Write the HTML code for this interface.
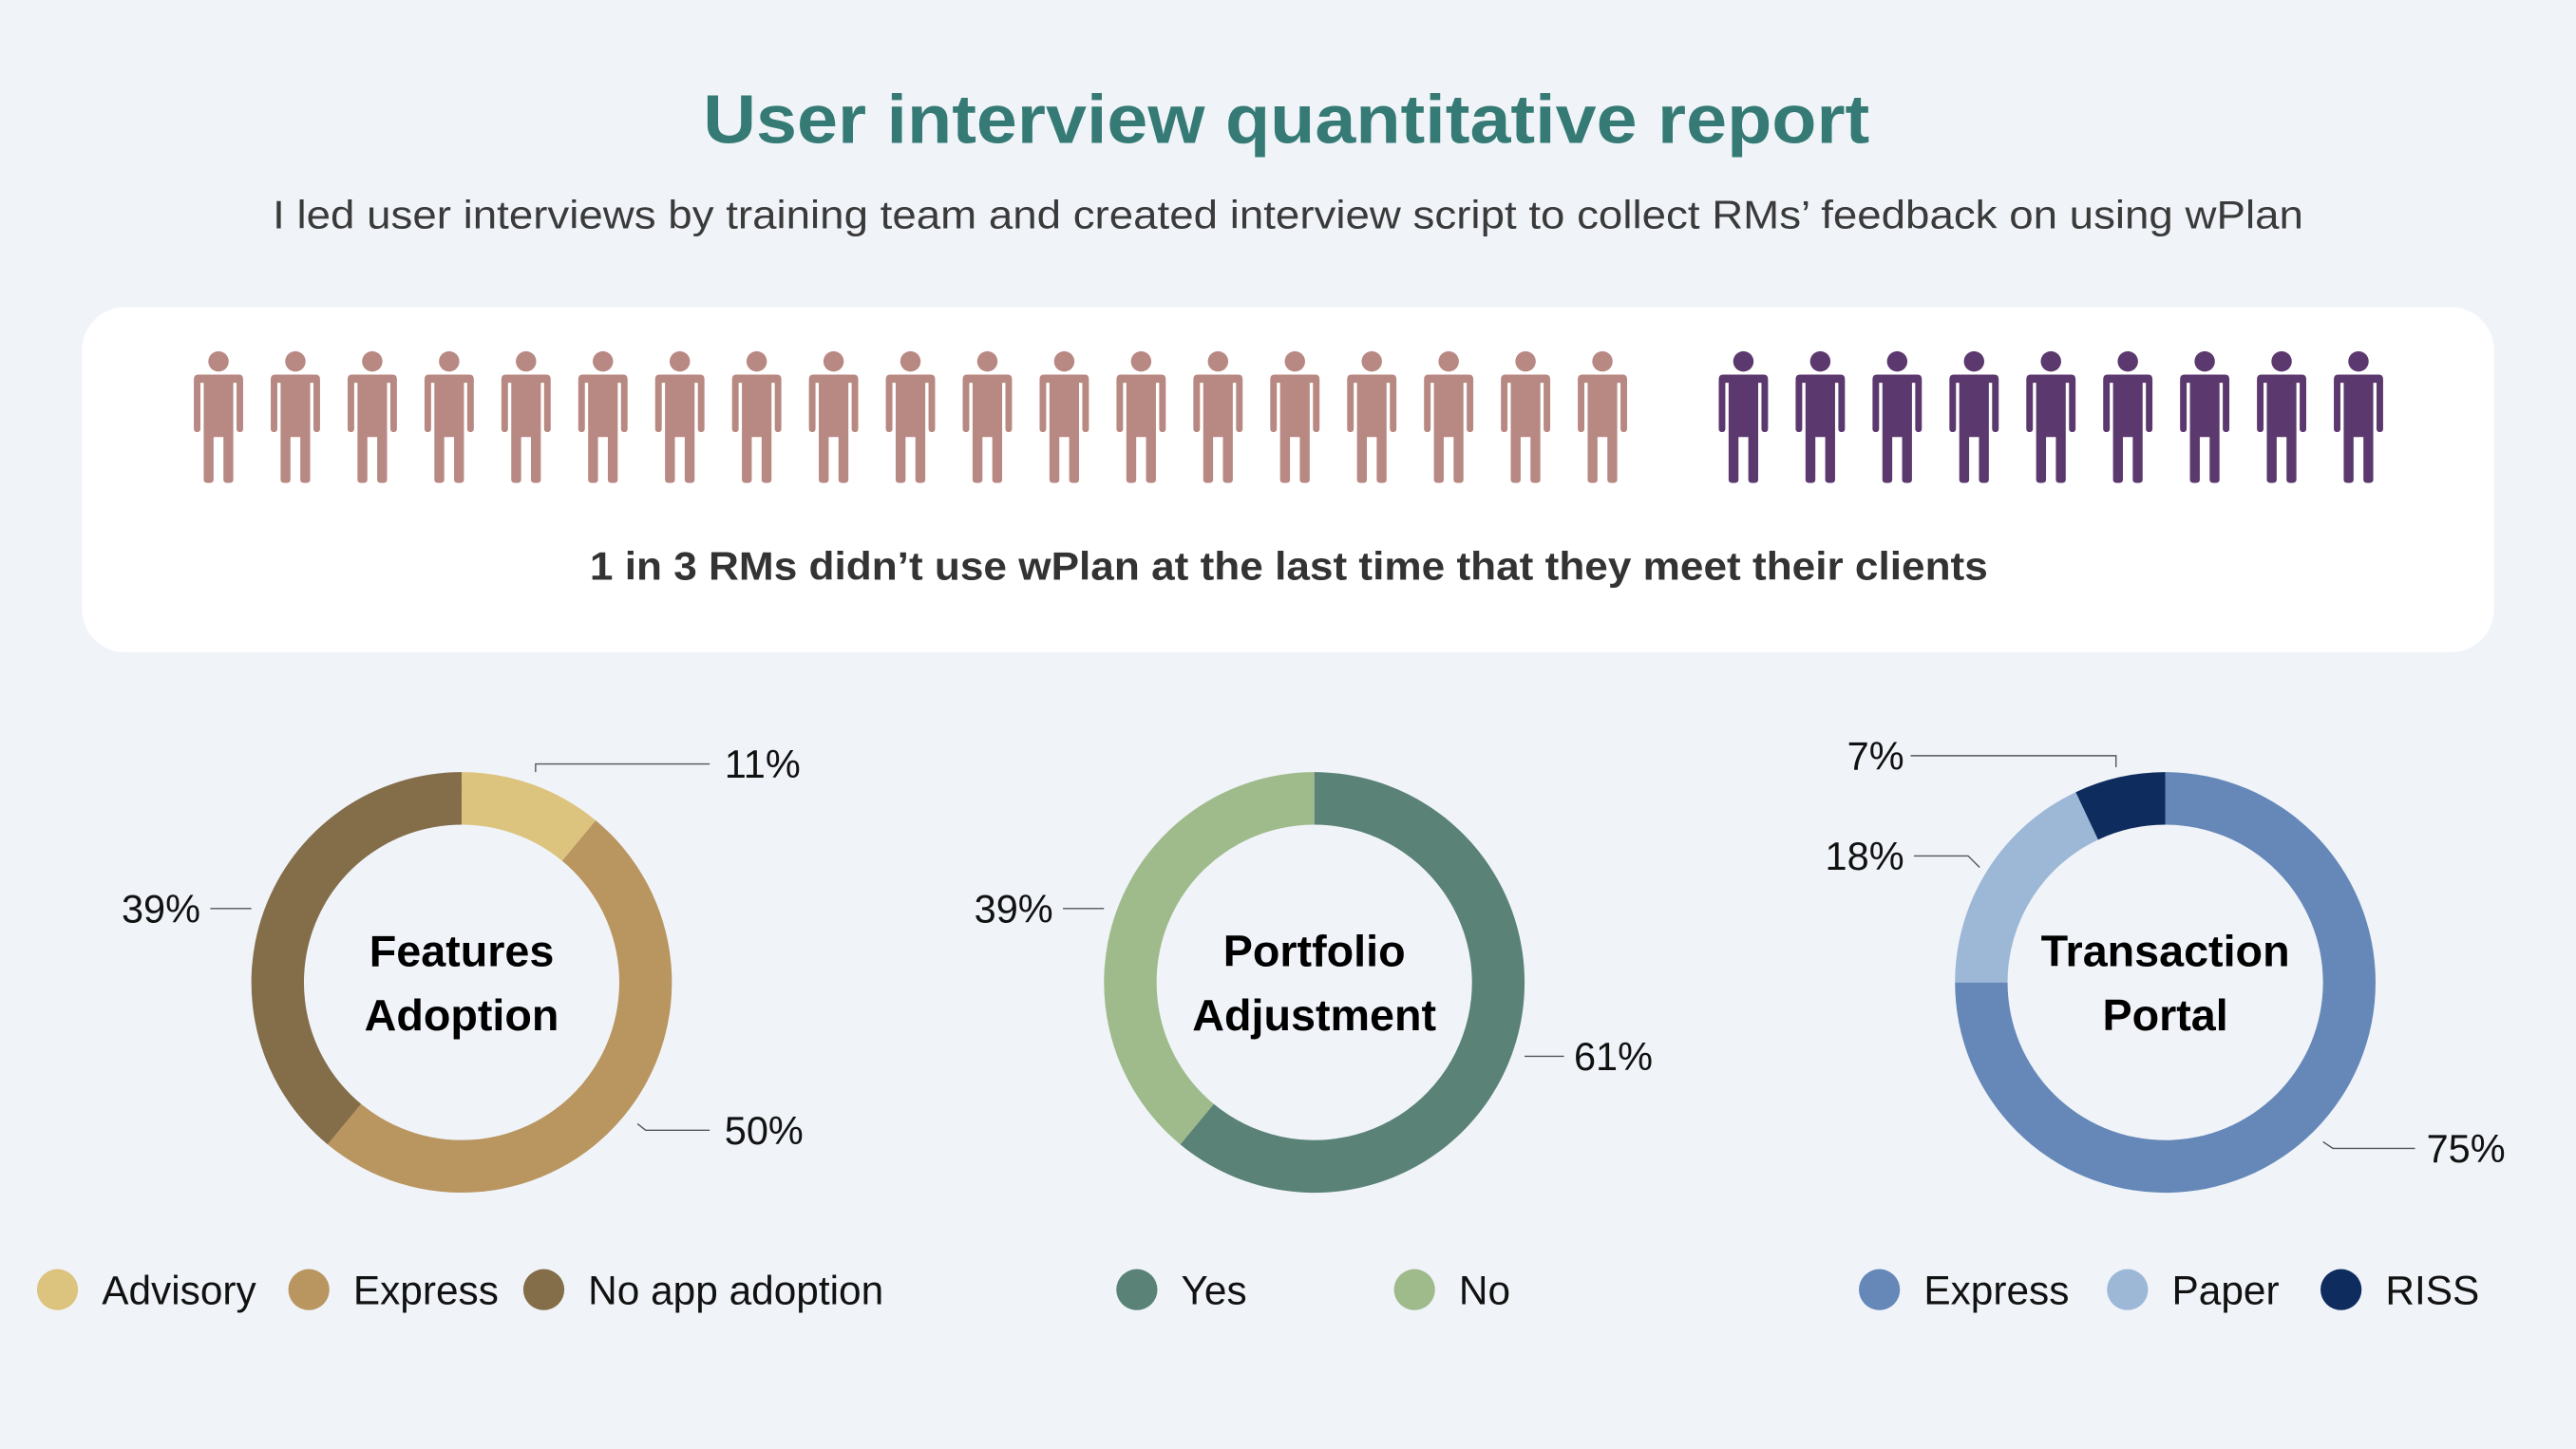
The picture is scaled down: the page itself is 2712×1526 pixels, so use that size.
<!DOCTYPE html>
<html><head><meta charset="utf-8">
<style>
html,body{margin:0;padding:0;background:#f0f4f9;}
svg{display:block;}
text{font-family:"Liberation Sans",sans-serif;}
</style></head>
<body>
<svg id="chart" width="2712" height="1526" viewBox="0 0 1568 882" preserveAspectRatio="none" xmlns="http://www.w3.org/2000/svg">
<rect x="0" y="0" width="1568" height="882" fill="#f0f4f9"/>
<text x="428" y="87" textLength="710" lengthAdjust="spacingAndGlyphs" font-size="42" font-weight="bold" fill="#357a74">User interview quantitative report</text>
<text x="166" y="139" textLength="1236" lengthAdjust="spacingAndGlyphs" font-size="24" fill="#3a3a3a">I led user interviews by training team and created interview script to collect RMs’ feedback on using wPlan</text>
<rect x="50" y="187" width="1468" height="210" rx="26" fill="#ffffff"/>
<g id="people"></g>
<text x="359" y="353" textLength="851" lengthAdjust="spacingAndGlyphs" font-size="24" font-weight="bold" fill="#333">1 in 3 RMs didn’t use wPlan at the last time that they meet their clients</text>
<g id="donuts"></g>
</svg>
<script>
// pictogram data
const pictoCounts = [19, 9];
const pictoColors = ['#b88882', '#5b386d'];

// donut data
const donutTitles = [['Features','Adoption'],['Portfolio','Adjustment'],['Transaction','Portal']];
const donut1Labels = ['Advisory','Express','No app adoption'];
const donut1Values = [11, 50, 39];
const donut2Labels = ['Yes','No'];
const donut2Values = [61, 39];
const donut3Labels = ['Express','Paper','RISS'];
const donut3Values = [75, 18, 7];

const NS='http://www.w3.org/2000/svg';
function mk(tag, attrs, parent){const e=document.createElementNS(NS,tag);for(const k in attrs)e.setAttribute(k,attrs[k]);if(parent)parent.appendChild(e);return e;}

// people
const pg=document.getElementById('people');
let px=133;
pictoCounts.forEach((n,gi)=>{
  for(let i=0;i<n;i++){
    const g=mk('g',{transform:`translate(${px},0)`},pg);
    
    
    const c=pictoColors[gi];
    mk('circle',{cx:0,cy:220,r:6.2,fill:c},g);
    mk('path',{d:'M-12.5,228 H12.5 Q15,228 15,231 V261 Q15,263 13,263 Q11,263 11,261 V233 H9 V292 Q9,294 6,294 Q3,294 3,292 V266 H-3 V292 Q-3,294 -6,294 Q-9,294 -9,292 V233 H-11 V261 Q-11,263 -13,263 Q-15,263 -15,261 V231 Q-15,228 -12.5,228 Z',fill:c},g);
    px+=46.8;
  }
  px+=39;
});

// donuts
const dg=document.getElementById('donuts');
const donuts=[
 {cx:281,labels:donut1Labels,values:donut1Values,colors:['#dcc47f','#b99560','#846d49'],
  legendX:[35,188,331],
  leaders:[[[326,470],[326,465],[432,465],441,'start'],[[388,684],[393,688],[432,688],441,'start'],[[153,553],[128,553],null,122,'end']]},
 {cx:800,labels:donut2Labels,values:donut2Values,colors:['#5a8276','#9fbb8b'],
  legendX:[692,861],
  leaders:[[[928,643],[952,643],null,958,'start'],[[672,553],[647,553],null,641,'end']]},
 {cx:1318,labels:donut3Labels,values:donut3Values,colors:['#6688b8','#9db8d7','#0e2c5e'],
  legendX:[1144,1295,1425],
  leaders:[[[1414,695],[1420,699],[1470,699],1477,'start'],[[1205,528],[1198,521],[1165,521],1159,'end'],[[1288,467],[1288,460],[1163,460],1159,'end']]}
];
const cy=598, R=128, r=96;
donuts.forEach((d,di)=>{
  const g=mk('g',{},dg);
  
  
  const total=d.values.reduce((a,b)=>a+b,0);
  let a0=0;
  d.values.forEach((v,i)=>{
    const a1=a0+v/total*2*Math.PI;
    const p=(a,rad)=>[d.cx+rad*Math.sin(a), cy-rad*Math.cos(a)];
    const [x0,y0]=p(a0,R),[x1,y1]=p(a1,R),[x2,y2]=p(a1,r),[x3,y3]=p(a0,r);
    const large=(a1-a0)>Math.PI?1:0;
    const s=mk('path',{d:`M${x0},${y0} A${R},${R} 0 ${large} 1 ${x1},${y1} L${x2},${y2} A${r},${r} 0 ${large} 0 ${x3},${y3} Z`,fill:d.colors[i]},g);
    
    
    a0=a1;
    const L=d.leaders[i];
    const pts=[L[0],L[1]].concat(L[2]?[L[2]]:[]);
    const ln=mk('polyline',{points:pts.map(q=>q.join(',')).join(' '),fill:'none',stroke:'#555','stroke-width':0.8},g);
    
    
    const last=pts[pts.length-1];
    const t=mk('text',{x:L[3],y:last[1]+8.5,'text-anchor':L[4],'font-size':24,fill:'#111'},g);
    t.textContent=v+'%';
    
    
    const lc=mk('circle',{cx:d.legendX[i],cy:785,r:12.5,fill:d.colors[i]},g);
    
    
    const lt=mk('text',{x:d.legendX[i]+27,y:794,'font-size':24.5,fill:'#111'},g);
    lt.textContent=d.labels[i];
    
    
  });
  donutTitles[di].forEach((line,li)=>{
    const t=mk('text',{x:d.cx,y:588+li*39,'text-anchor':'middle','font-size':27,'font-weight':'bold',fill:'#000'},g);
    t.textContent=line;
    
    
  });
});
</script>
</body></html>
